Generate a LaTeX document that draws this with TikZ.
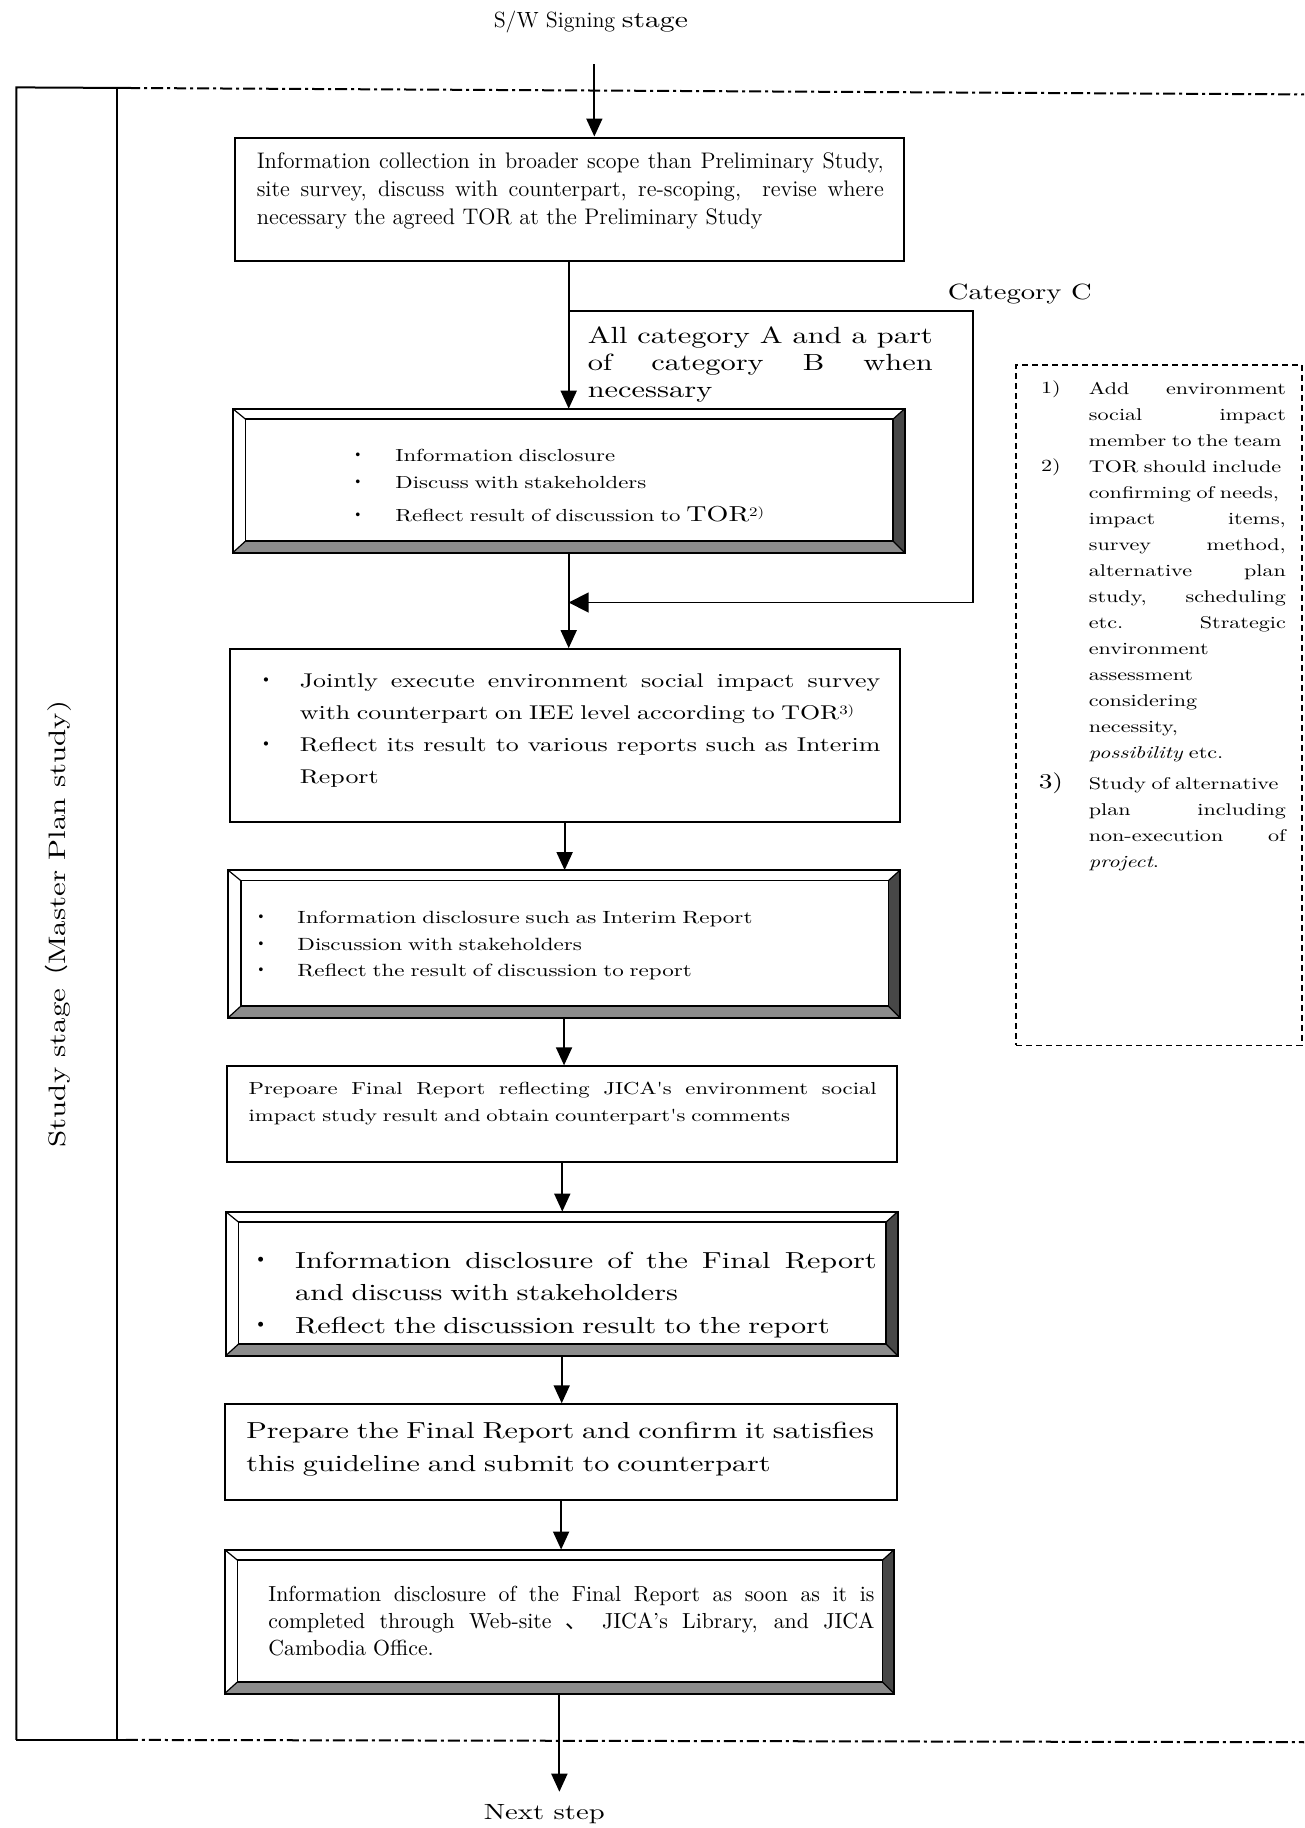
\documentclass[tikz,border=0pt]{standalone}
\usepackage{fontspec}
\usepackage{graphicx}
\usetikzlibrary{arrows.meta,calc,fit}
\newfontfamily\cent{lmroman10-regular.otf}[FakeStretch=1.3,ItalicFont=lmroman10-italic.otf,BoldFont=lmroman10-bold.otf]
\newfontfamily\cjk{Noto Sans CJK JP}
\setlength\parindent{0pt}
% a justified line of given width: the interword spaces share the slack equally
\newcommand\jl[2]{\makebox[#1][s]{\spaceskip=0.3333em plus 1fil minus 0.1em\relax\xspaceskip=0pt\relax #2}}
% bullet dot centred on the line start, text after the given indent
\newcommand\blt[1]{\makebox[#1][l]{\makebox[0pt]{\cjk ・}}}
\newcommand\supnote[1]{\raisebox{0.6ex}{\fontsize{6.5}{7}\selectfont #1}}
% fixes the first-line height to 1em so that yshift=<font size> puts the baseline on the anchor
\newcommand\fl{\rule{0pt}{1em}}
\colorlet{bevelbot}{black!45}
\colorlet{bevelside}{black!72}

\tikzset{
  boxline/.style={draw, line width=1pt},
  plainbox/.style={boxline, inner sep=0pt},
  bevelbox/.style={inner sep=0pt},
  conn/.style={line width=0.9pt},
  arr/.style={conn, -{Triangle[length=9pt,width=8pt]}},
  bigarr/.style={conn, -{Triangle[length=10pt,width=10pt]}},
  frame/.style={line width=1pt},
  dashdot/.style={dash pattern=on 6pt off 2pt on 1.5pt off 2pt},
  txt/.style={anchor=north west, inner sep=0pt, align=left},
}

% raised frame: grey bottom band, dark right band, inner panel
\newcommand\bevelframe[1]{%
  \fill[bevelbot] (#1.south west) -- (#1.south east) -- ($(#1.south east)+(-10,-10)$) -- ($(#1.south west)+(11,-10)$) -- cycle;
  \fill[bevelside] (#1.north east) -- (#1.south east) -- ($(#1.south east)+(-10,-10)$) -- ($(#1.north east)+(-10,9)$) -- cycle;
  \draw[line width=1pt] (#1.north west) rectangle (#1.south east);
  \draw[line width=0.8pt] ($(#1.north west)+(11,9)$) rectangle ($(#1.south east)+(-10,-10)$);
  \draw[line width=0.6pt] (#1.north west) -- ($(#1.north west)+(11,9)$)
                          (#1.north east) -- ($(#1.north east)+(-10,9)$)
                          (#1.south west) -- ($(#1.south west)+(11,-10)$)
                          (#1.south east) -- ($(#1.south east)+(-10,-10)$);
}

\begin{document}
\begin{tikzpicture}[x=0.58265pt,y=-0.58265pt]
\fill[white] (0,0) rectangle (1119,1568.6);
\useasboundingbox (0,0) rectangle (1119,1568.6);

% stage frame with the side label column
\draw[frame] (14,1493) -- (14,75) -- (110,75.5);
\draw[frame] (100,75.5) -- (100,1493) -- (14,1493) (100,1493) -- (108,1493);
\draw[frame,dashdot] (110,75.5) -- (1119,81);
\draw[frame,dashdot] (108,1493) -- (1119,1495);
\node[rotate=90, inner sep=0pt, font=\cent\fontsize{11.9}{13}\selectfont] (stage) at (50,793) {Study stage{\cjk （}Master Plan study)};

% boxes
\node[plainbox, fit={(202,118) (776,224)}] (b1) {};
\node[bevelbox, fit={(200,351) (776,474)}] (b2) {};
\node[plainbox, fit={(197,557) (772,705)}] (b3) {};
\node[bevelbox, fit={(196,747) (772,873)}] (b4) {};
\node[plainbox, fit={(195,915) (770,997)}] (b5) {};
\node[bevelbox, fit={(194,1040) (770,1163)}] (b6) {};
\node[plainbox, fit={(193,1205) (770,1287)}] (b7) {};
\node[bevelbox, fit={(193,1330) (767,1453)}] (b8) {};
\bevelframe{b2}
\bevelframe{b4}
\bevelframe{b6}
\bevelframe{b8}

% texts
\node[inner sep=0pt, anchor=base] (sw) at (507,24) {{\fontsize{11}{13}\selectfont S/W Signing} {\cent\fontsize{11.4}{13}\selectfont stage}};

\node[txt, yshift=11.25pt, text width=316pt, font=\fontsize{11.25}{14}\selectfont] (t1) at (220,144)
  {\fl\jl{313.5pt}{Information collection in broader scope than Preliminary Study,}\\
   \jl{313.5pt}{site survey, discuss with counterpart, re-scoping,\ \ revise where}\\
   necessary the agreed TOR at the Preliminary Study};

\node[inner sep=0pt, anchor=base west, font=\cent\fontsize{11}{13}\selectfont] (catc) at (813,257) {Category C};

\node[txt, yshift=11.7pt, text width=175pt, font=\cent\fontsize{11.7}{13.5}\selectfont] (catab) at (504,294)
  {\fl\jl{172.5pt}{All category A and a part}\\
   \jl{172.5pt}{of category B when}\\
   necessary};

\node[txt, yshift=8.75pt, text width=260pt, font=\cent\fontsize{8.75}{13.4}\selectfont] (t2) at (307,396)
  {\fl\blt{18.6pt}Information disclosure\\
   \blt{18.6pt}Discuss with stakeholders\\[2.9pt]
   \blt{18.6pt}Reflect result of discussion to {\fontsize{10.8}{13}\selectfont TOR}\supnote{2)}};

\node[txt, yshift=9.95pt, text width=312pt, font=\cent\fontsize{9.95}{15.9}\selectfont] (t3) at (228,590)
  {\fl\blt{16.9pt}\jl{290.2pt}{Jointly execute environment social impact survey}\\
   \hspace*{16.9pt}with counterpart on IEE level according to TOR\supnote{3)}\\
   \blt{16.9pt}\jl{290.2pt}{Reflect its result to various reports such as Interim}\\
   \hspace*{16.9pt}Report};

\node[txt, yshift=8.85pt, text width=300pt, font=\cent\fontsize{8.85}{13.4}\selectfont] (t4) at (224,792)
  {\fl\blt{18pt}Information disclosure such as Interim Report\\
   \blt{18pt}Discussion with stakeholders\\
   \blt{18pt}Reflect the result of discussion to report};

\node[txt, yshift=8.7pt, text width=316pt, font=\cent\fontsize{8.7}{13.4}\selectfont] (t5) at (213,939)
  {\fl\jl{314pt}{Prepoare Final Report reflecting JICA's environment social}\\
   impact study result and obtain counterpart's comments};

\node[txt, yshift=11.6pt, text width=312pt, font=\cent\fontsize{11.6}{16.3}\selectfont] (t6) at (224,1088)
  {\fl\blt{16.9pt}\jl{290.7pt}{Information disclosure of the Final Report}\\
   \hspace*{16.9pt}and discuss with stakeholders\\
   \blt{16.9pt}Reflect the discussion result to the report};

\node[txt, yshift=11.6pt, text width=330pt, font=\cent\fontsize{11.6}{16.3}\selectfont] (t7) at (211,1234)
  {\fl Prepare the Final Report and confirm it satisfies\\
   this guideline and submit to counterpart};

\node[txt, yshift=10.9pt, text width=305pt, font=\fontsize{10.9}{13.4}\selectfont] (t8) at (230,1374)
  {\fl\jl{303pt}{Information disclosure of the Final Report as soon as it is}\\
   \jl{303pt}{completed through Web-site {\cjk 、} JICA's Library, and JICA}\\
   Cambodia Office.};

\node[inner sep=0pt, anchor=base, font=\cent\fontsize{11}{13}\selectfont] (next) at (467,1561) {Next step};

% notes
\node[fit={(872,313) (1117,897)}, inner sep=0pt, draw, line width=0.8pt, dash pattern=on 3pt off 2pt] (notes) {};
\node[inner sep=0pt, anchor=base west, font=\cent\fontsize{8.5}{13}\selectfont] (n1) at (893,338) {1)};
\node[inner sep=0pt, anchor=base west, font=\cent\fontsize{8.5}{13}\selectfont] (n2) at (893,405) {2)};
\node[inner sep=0pt, anchor=base west, font=\cent\fontsize{10.5}{13}\selectfont] (n3) at (891,677) {3)};
\node[txt, yshift=8.5pt, text width=100pt, font=\cent\fontsize{8.5}{13}\selectfont] (nt1) at (934,338)
  {\fl\jl{98.5pt}{Add environment}\\
   \jl{98.5pt}{social impact}\\
   member to the team};
\node[txt, yshift=8.5pt, text width=100pt, font=\cent\fontsize{8.5}{13}\selectfont] (nt2) at (934,405)
  {\fl TOR should include\\
   confirming of needs,\\
   \jl{98.5pt}{impact items,}\\
   \jl{98.5pt}{survey method,}\\
   \jl{98.5pt}{alternative plan}\\
   \jl{98.5pt}{study, scheduling}\\
   \jl{98.5pt}{etc. Strategic}\\
   environment\\
   assessment\\
   considering\\
   necessity,\\
   \textit{possibility} etc.};
\node[txt, yshift=8.5pt, text width=100pt, font=\cent\fontsize{8.5}{13}\selectfont] (nt3) at (934,677)
  {\fl Study of alternative\\
   \jl{98.5pt}{plan including}\\
   \jl{98.5pt}{non-execution of}\\
   \textit{project}.};

% connectors
\coordinate (swtop) at (510,55);
\draw[arr] (swtop) -- (swtop |- b1.north);
\draw[arr] (b2.north |- b1.south) -- (b2.north);
\draw[arr] (b2.south) -- (b2.south |- b3.north);
\draw[arr] (b3.south) -- (b3.south |- b4.north);
\draw[arr] (b4.south) -- (b4.south |- b5.north);
\draw[arr] (b5.south) -- (b5.south |- b6.north);
\draw[arr] (b6.south) -- (b6.south |- b7.north);
\draw[arr] (b7.south) -- (b7.south |- b8.north);
\draw[arr, shorten >=6pt] (b8.south) -- (b8.south |- next.north);

% category C bypass
\coordinate (catsplit) at (b2.north |- 0,267);
\coordinate (catturn1) at (835,267);
\coordinate (catturn2) at (835,517);
\coordinate (catjoin) at (b2.south |- 0,517);
\draw[bigarr] (catsplit) -- (catturn1) -- (catturn2) -- (catjoin);
\end{tikzpicture}
\end{document}
